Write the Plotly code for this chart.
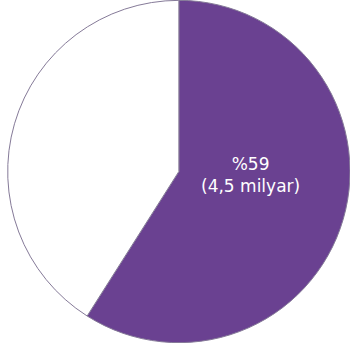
import plotly.graph_objects as go

# Share of the world population (percent) and the label text for the highlighted slice
labels = ["İnternet kullanıcısı", "Diğer"]
shares = [59, 41]
highlight_label = "%59<br>(4,5 milyar)"
slice_colors = ["#6a4191", "#ffffff"]

fig = go.Figure(
    go.Pie(
        labels=labels,
        values=shares,
        textinfo="none",
        sort=False,
        direction="clockwise",
        rotation=0,
        marker=dict(colors=slice_colors, line=dict(color="#857a98", width=1)),
        hoverinfo="label+percent",
        domain=dict(x=[0.022, 1.0], y=[0.0, 1.0]),
        showlegend=False,
    )
)

# Value label placed inside the purple slice
fig.add_annotation(
    text=highlight_label,
    xref="paper",
    yref="paper",
    x=0.715,
    y=0.49,
    xanchor="center",
    yanchor="middle",
    showarrow=False,
    align="center",
    font=dict(family="DejaVu Sans, sans-serif", size=17, color="#ffffff"),
)

fig.update_layout(
    width=350,
    height=343,
    margin=dict(l=0, r=0, t=0, b=0),
    paper_bgcolor="#ffffff",
    plot_bgcolor="#ffffff",
)

fig.write_html("out.html")
